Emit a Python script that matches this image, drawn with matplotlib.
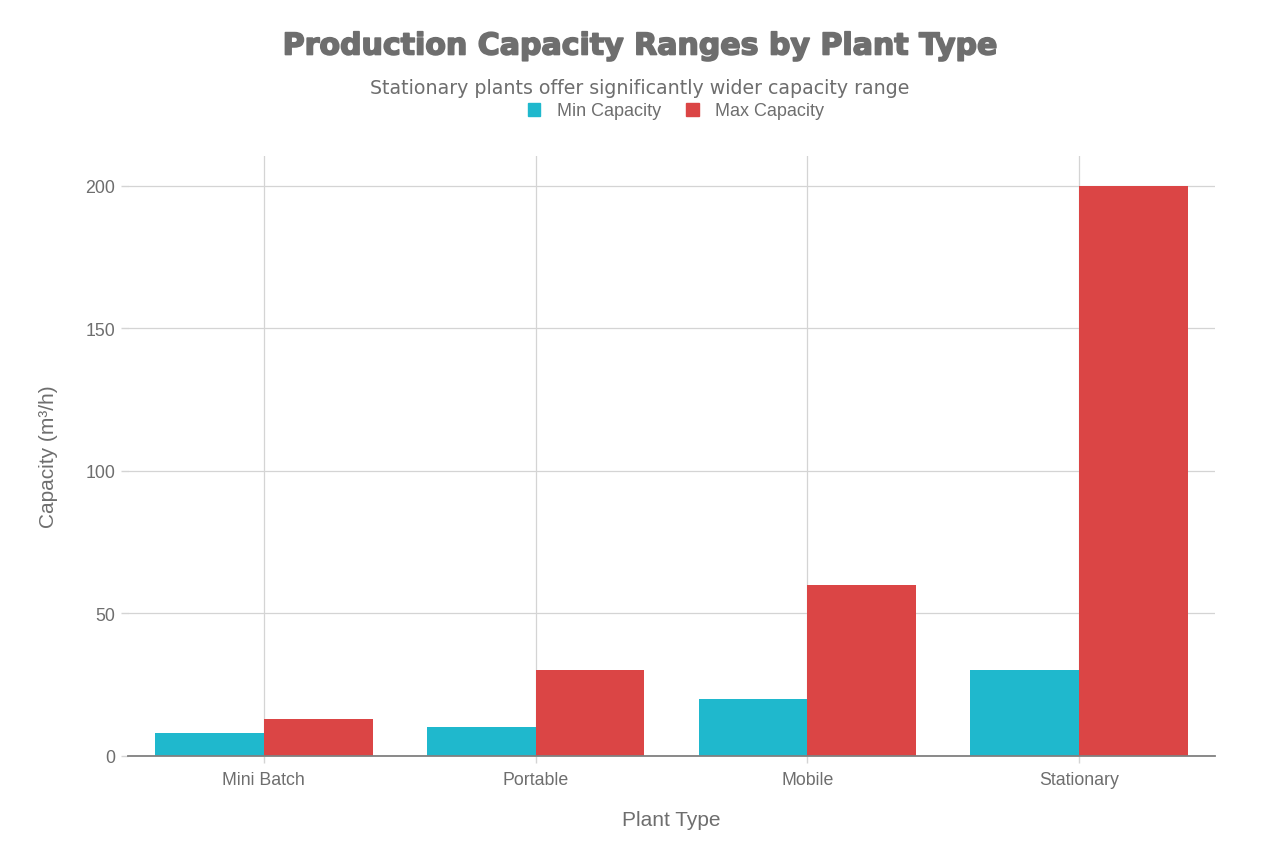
import matplotlib
matplotlib.use("Agg")
import matplotlib.pyplot as plt
import matplotlib.patheffects as pe
import numpy as np
from matplotlib.patches import Patch

plant_types = ["Mini Batch", "Portable", "Mobile", "Stationary"]
min_capacity = [8, 10, 20, 30]
max_capacity = [13, 30, 60, 200]
y_ticks = [0, 50, 100, 150, 200]

TEXT = "#6e6e6e"
GRID = "#d4d4d4"
CYAN = "#1FB8CD"
RED = "#DB4545"
TICK_FONT = ["Liberation Sans", "DejaVu Sans"]

fig = plt.figure(figsize=(12.8, 8.53), dpi=100)
ax = fig.add_axes([128 / 1280, 1 - 757 / 853, (1215 - 128) / 1280, (757 - 157) / 853])

x = np.arange(len(plant_types))
w = 0.4
ax.bar(x - w / 2, min_capacity, width=w, color=CYAN, label="Min Capacity", zorder=3)
ax.bar(x + w / 2, max_capacity, width=w, color=RED, label="Max Capacity", zorder=3)

ax.set_xlim(-0.5, 3.5)
ax.set_ylim(0, 210.5)
ax.set_xticks(x)
ax.set_xticklabels(plant_types, fontsize=12.8, color=TEXT, family=TICK_FONT)
ax.set_yticks(y_ticks)
ax.set_yticklabels([str(v) for v in y_ticks], fontsize=12.8, color=TEXT, family=TICK_FONT)
ax.tick_params(axis="both", length=5, color=GRID, width=1, pad=4)
ax.tick_params(axis="x", pad=6)
ax.grid(True, color=GRID, linewidth=0.9, zorder=0)

for s in ["top", "right", "left"]:
    ax.spines[s].set_visible(False)
ax.spines["bottom"].set_color("#808080")
ax.spines["bottom"].set_linewidth(1.3)
ax.spines["bottom"].set_zorder(4)

ax.set_xlabel("Plant Type", fontsize=15, color=TEXT, family=TICK_FONT, labelpad=16)
ax.set_ylabel("Capacity (m³/h)", fontsize=15, color=TEXT, family=TICK_FONT, labelpad=20)

fig.text(0.5, 1 - 47 / 853, "Production Capacity Ranges by Plant Type", ha="center", va="center",
         fontsize=21.6, fontweight="bold", color=TEXT, family="DejaVu Sans",
         path_effects=[pe.withStroke(linewidth=1.2, foreground=TEXT)])
fig.text(0.5, 1 - 89 / 853, "Stationary plants offer significantly wider capacity range", ha="center",
         va="center", fontsize=13.7, color=TEXT, family="DejaVu Sans")

handles = [Patch(color=CYAN, label="Min Capacity"), Patch(color=RED, label="Max Capacity")]
fig.legend(handles=handles, loc="center", bbox_to_anchor=(0.528, 1 - 112 / 853), ncol=2, frameon=False,
           prop={"family": TICK_FONT, "size": 13}, labelcolor=TEXT, handlelength=0.7, handleheight=0.7,
           handletextpad=0.9, columnspacing=1.4, borderaxespad=0)

fig.savefig("out.png", dpi=100)
